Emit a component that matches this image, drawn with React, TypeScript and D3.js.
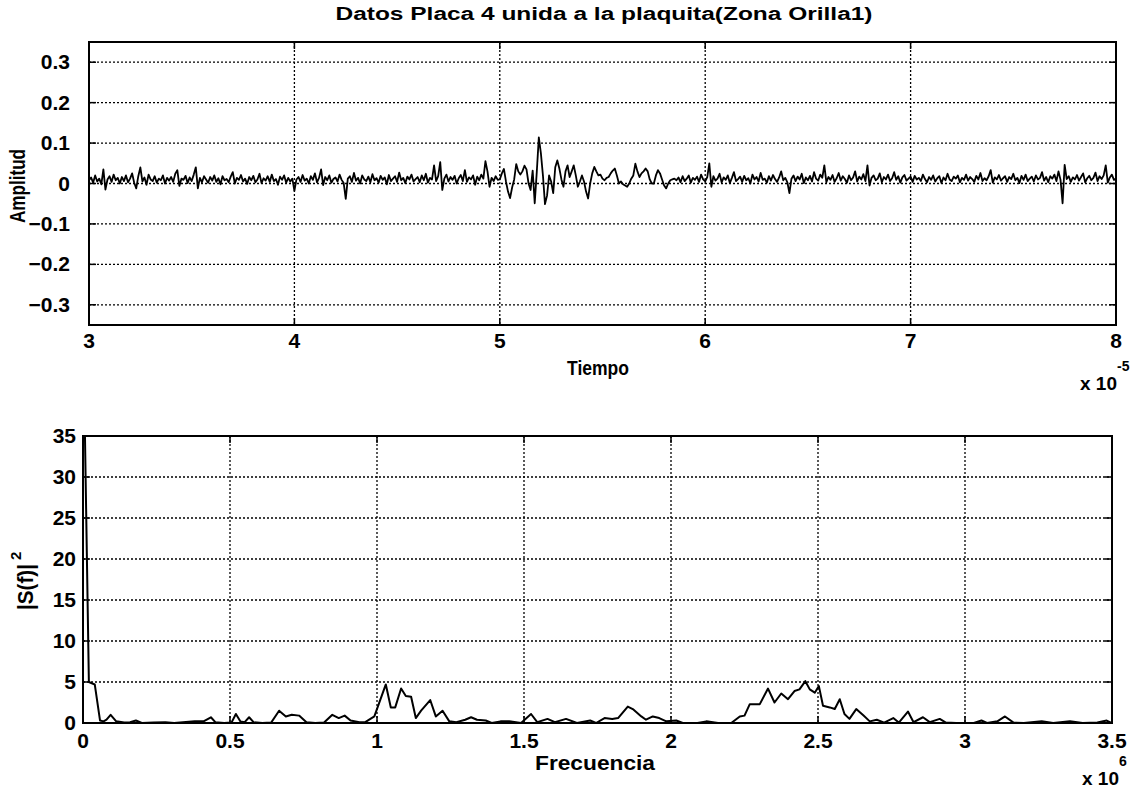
import React from 'react';
import * as d3 from 'd3';

// ---------- Data ----------
// Upper plot: amplitude (in thousandths) sampled every 0.01 (x 1e-5 s) from 3.00
const TIME_START = 3.0;
const TIME_STEP = 0.01;
const ampBefore = [
  8, 15, 2, 20, 5, 12, -2, 35, -15, 10, 18, 4, 22, 8, 14, 0, 16, 6, 20, 3,
  12, 25, 2, -12, 18, 40, 5, 15, -3, 22, 10, 6, 18, 2, 12, 8, 20, 0, 14, 7,
  16, 4, 24, 33, -6, 12, 9, 19, 1, 15, 6, 22, 40, -12, 14, 3, 18, 10, 2, 16,
  7, 20, 4, 13, -2, 18, 8, 11, 3, 17, 28, 0, 14, 9, 21, 5, 12, -1, 16, 8,
  19, 3, 10, 24, 1, 13, 7, 18, 4, 22, 6, 11, -3, 17, 9, 20, 2, 14, 5, 12,
  -18, 10, 16, 4, 21, 7, 12, 0, 18, 9, 25, 3, 14, 35, -4, 16, 8, 20, 2, 11,
  15, 5, 22, 9, 1, -38, 12, 18, 4, 26, 7, 14, 0, 20, 10, 6, 17, 3, 23, 8,
  13, 2, 19, 9, 15, -2, 21, 6, 12, 18, 4, 27, 8, 14, 1, 17, 10, 22, 5, 11,
  16, 3, 20, 8, 24, 2, 14, 10, 45, 6, 18, 53, -16, 12, 22, 5, 16, 9, 19, 0,
  13, 21, 6, 33, 4, 15, 10, 20, -3, 17, 8, 22, 12, 55, 30, -8, 14, 6, 18, 9,
];
const ampBurst = [
  10, 25, 36, 5, -20, -36, -10, 10, 48, 30,
  22, 30, 44, 35, 0, -16, 32, -49, 28, 114,
  75, 20, -51, -30, 20, 5, -24, 40, 57, 37,
  10, -8, 30, 45, 16, 30, 45, 20, -8, 5,
  20, 5, -20, -37, 0, 25, 41, 30, 20, 22,
  12, 8, 14, 16, 25, 32, 37, 20, 0, 5,
  -2, -5, -8, 0, 12, 20, 49, 30, 16, 25,
];
const ampAfter = [
  30, 37, 30, 10, 0, 0, 20, 33, 25, 10, -5, -12, 0, 8, 10, 12,
  8, 15, 3, 18, 6, 12, 20, 2, 14, 9, 17, 4, 22, 10,
  5, 16, 50, -8, 18, 7, 12, 24, 3, 15, 9, 20, 1, 14, 28, 6, 11, 17, 4, 19,
  8, 13, 0, 22, 10, 16, 5, 26, 9, 12, 2, 18, 7, 21, 11, 4, 15, 30, 8, 14,
  3, -24, 12, 20, 6, 17, 10, 24, 1, 15, 8, 19, 5, 28, 12, 7, 22, 14, 45, 3,
  16, 9, 21, 4, 13, 26, 7, 18, 11, 2, 20, 8, 15, 30, 5, 17, 10, 23, 6, 45,
  -5, 14, 20, 8, 12, 25, 3, 16, 10, 22, 6, 13, 28, 9, 18, 2, 15, 21, 7, 12,
  17, 4, 19, 10, 14, 6, 22, 11, 3, 16, 9, 20, 5, 13, 18, 1, 15, 8, 24, 10,
  6, 17, 12, 20, 3, 14, 9, 22, 7, 16, 11, 4, 19, 10, 26, 6, 13, 8, 18, 33,
  2, 15, 10, 21, 7, 13, 18, 4, 16, 11, 24, 8, 14, 1, 19, 9, 22, 6, 12, 17,
  5, 20, 10, 14, 28, 7, 16, 3, 18, 12, 22, 6, 30, 9, -49, 46, 11, 18, 4, 15,
  10, 21, 7, 16, 25, 3, 13, 19, 8, 14, 27, 6, 18, 11, 20, 45, 2, 15, 22, 9,
  12,
];

// Lower plot: power spectrum, frequency in units of 1e6
const specFreq = [
  0.0, 0.02, 0.04, 0.058, 0.07, 0.08, 0.094, 0.113, 0.14, 0.16, 0.18, 0.2, 0.24, 0.28, 0.31, 0.34,
  0.38, 0.41, 0.435, 0.45, 0.48, 0.505, 0.52, 0.535, 0.55, 0.565, 0.58, 0.61, 0.64, 0.667, 0.69,
  0.71, 0.735, 0.76, 0.79, 0.82, 0.848, 0.87, 0.89, 0.91, 0.94, 0.96, 0.991, 1.03, 1.047, 1.062,
  1.082, 1.098, 1.116, 1.132, 1.15, 1.181, 1.2, 1.223, 1.246, 1.27, 1.3, 1.32, 1.34, 1.37, 1.39,
  1.42, 1.45, 1.49, 1.524, 1.545, 1.58, 1.605, 1.643, 1.68, 1.725, 1.745, 1.774, 1.8, 1.82, 1.853,
  1.87, 1.899, 1.915, 1.938, 1.96, 1.984, 2.018, 2.04, 2.09, 2.12, 2.16, 2.205, 2.234, 2.25, 2.268,
  2.302, 2.33, 2.352, 2.375, 2.398, 2.42, 2.437, 2.457, 2.472, 2.489, 2.503, 2.517, 2.54, 2.557,
  2.574, 2.59, 2.607, 2.63, 2.655, 2.676, 2.7, 2.725, 2.756, 2.775, 2.806, 2.825, 2.857, 2.88,
  2.914, 2.935, 2.97, 3.0, 3.03, 3.056, 3.075, 3.11, 3.136, 3.165, 3.2, 3.261, 3.3, 3.357, 3.4,
  3.45, 3.482, 3.5,
];
const specPower = [
  50, 5.0, 4.7, 0.3, 0.2, 0.4, 1.0, 0.2, 0.05, 0.1, 0.3, 0.0, 0.05, 0.1, 0.0, 0.1,
  0.2, 0.2, 0.7, 0.1, 0.0, 0.05, 1.1, 0.2, 0.1, 0.7, 0.1, 0.0, 0.05, 1.5, 0.8,
  1.0, 0.9, 0.1, 0.0, 0.05, 1.0, 0.6, 0.9, 0.3, 0.1, 0.1, 0.8, 4.7, 1.9, 1.9,
  4.2, 3.3, 3.2, 0.6, 1.5, 2.8, 0.8, 1.5, 0.2, 0.1, 0.4, 0.7, 0.4, 0.3, 0.0,
  0.2, 0.2, 0.0, 1.1, 0.1, 0.5, 0.1, 0.5, 0.0, 0.3, 0.0, 0.6, 0.5, 0.6, 2.0,
  1.7, 0.8, 0.4, 0.8, 0.6, 0.2, 0.3, 0.0, 0.0, 0.2, 0.0, 0.0, 0.8, 0.9, 2.3,
  2.3, 4.2, 2.5, 3.6, 2.9, 3.9, 4.1, 5.1, 4.1, 3.7, 4.5, 2.1, 1.9, 1.7,
  2.9, 1.1, 0.5, 1.7, 0.9, 0.2, 0.4, 0.05, 0.6, 0.05, 1.4, 0.1, 0.7, 0.1,
  0.5, 0.05, 0.0, 0.0, 0.0, 0.3, 0.0, 0.2, 0.8, 0.05, 0.0, 0.2, 0.0, 0.2, 0.0,
  0.05, 0.3, 0.0,
];

const topXTicks = [3, 4, 5, 6, 7, 8];
const topYTicks = [-0.3, -0.2, -0.1, 0, 0.1, 0.2, 0.3];
const botXTicks = [0, 0.5, 1, 1.5, 2, 2.5, 3, 3.5];
const botYTicks = [0, 5, 10, 15, 20, 25, 30, 35];

const TITLE = 'Datos Placa 4 unida a la plaquita(Zona Orilla1)';

// ---------- Component ----------
const FONT = "'Liberation Sans', Arial, Helvetica, sans-serif";

export default function App() {
  const amp = [...ampBefore, ...ampBurst, ...ampAfter].map((v, i) => ({
    t: TIME_START + i * TIME_STEP,
    v: v / 1000,
  }));
  const spec = specFreq.map((f, i) => ({ f, p: specPower[i] }));

  // upper axes
  const tx = d3.scaleLinear().domain([3, 8]).range([89, 1116]);
  const ty = d3.scaleLinear().domain([-0.35, 0.35]).range([325, 42]);
  // lower axes
  const fx = d3.scaleLinear().domain([0, 3.5]).range([83, 1112]);
  const fy = d3.scaleLinear().domain([0, 35]).range([723, 436]);

  const ampLine = d3
    .line<{ t: number; v: number }>()
    .x((d) => tx(d.t))
    .y((d) => ty(d.v));
  const specLine = d3
    .line<{ f: number; p: number }>()
    .x((d) => fx(d.f))
    .y((d) => fy(d.p));

  const gridStyle = {
    stroke: '#000',
    strokeWidth: 1.3,
    strokeDasharray: '2 2',
    fill: 'none',
  };
  const tickFont = { fontFamily: FONT, fontWeight: 700, fontSize: 21, fill: '#000' };
  const labelFont = { fontFamily: FONT, fontWeight: 700, fontSize: 20, fill: '#000' };
  const tickLen = 7;

  const [tx0, tx1] = tx.range();
  const [ty0, ty1] = ty.range(); // bottom, top
  const [fx0, fx1] = fx.range();
  const [fy0, fy1] = fy.range();

  return (
    <svg
      width={1130}
      height={788}
      style={{ position: 'absolute', left: 0, top: 0, background: '#fff' }}
    >
      <defs>
        <clipPath id="clipTop">
          <rect x={tx0} y={ty1} width={tx1 - tx0} height={ty0 - ty1} />
        </clipPath>
        <clipPath id="clipBot">
          <rect x={fx0} y={fy1} width={fx1 - fx0} height={fy0 - fy1} />
        </clipPath>
      </defs>
      <rect x={0} y={0} width={1130} height={788} fill="#fff" />

      {/* Title */}
      <text
        x={604}
        y={20}
        textAnchor="middle"
        textLength={537}
        lengthAdjust="spacingAndGlyphs"
        style={{ ...labelFont, fontSize: 18 }}
      >
        {TITLE}
      </text>

      {/* ===== Upper plot ===== */}
      <g>
        {topXTicks
          .filter((t) => t > 3 && t < 8)
          .map((t) => (
            <line key={'gx' + t} x1={tx(t)} x2={tx(t)} y1={ty1} y2={ty0} style={gridStyle} />
          ))}
        {topYTicks.map((v) => (
          <line key={'gy' + v} x1={tx0} x2={tx1} y1={ty(v)} y2={ty(v)} style={gridStyle} />
        ))}
        <path
          d={ampLine(amp) || ''}
          fill="none"
          stroke="#000"
          strokeWidth={1.8}
          strokeLinejoin="round"
          clipPath="url(#clipTop)"
        />
        <rect x={tx0} y={ty1} width={tx1 - tx0} height={ty0 - ty1} fill="none" stroke="#000" strokeWidth={2} />
        {topXTicks.map((t) => (
          <g key={'tx' + t}>
            <line x1={tx(t)} x2={tx(t)} y1={ty0} y2={ty0 - tickLen} stroke="#000" strokeWidth={1.5} />
            <line x1={tx(t)} x2={tx(t)} y1={ty1} y2={ty1 + tickLen} stroke="#000" strokeWidth={1.5} />
            <text x={tx(t)} y={ty0 + 23} textAnchor="middle" style={tickFont}>
              {t}
            </text>
          </g>
        ))}
        {topYTicks.map((v) => (
          <g key={'ty' + v}>
            <line x1={tx0} x2={tx0 + tickLen} y1={ty(v)} y2={ty(v)} stroke="#000" strokeWidth={1.5} />
            <line x1={tx1} x2={tx1 - tickLen} y1={ty(v)} y2={ty(v)} stroke="#000" strokeWidth={1.5} />
            <text x={70} y={ty(v) + 7} textAnchor="end" style={tickFont}>
              {v === 0 ? '0' : d3.format('.1f')(v)}
            </text>
          </g>
        ))}
        <text
          x={598}
          y={375}
          textAnchor="middle"
          textLength={62}
          lengthAdjust="spacingAndGlyphs"
          style={labelFont}
        >
          Tiempo
        </text>
        <text
          transform="translate(25,186) rotate(-90)"
          textAnchor="middle"
          textLength={74}
          lengthAdjust="spacingAndGlyphs"
          style={{ ...labelFont, fontSize: 22 }}
        >
          Amplitud
        </text>
        <text x={1080} y={390} style={{ ...tickFont, fontSize: 19 }}>
          x 10
        </text>
        <text x={1117} y={371} style={{ ...tickFont, fontSize: 14 }}>
          -5
        </text>
      </g>

      {/* ===== Lower plot ===== */}
      <g>
        {botXTicks
          .filter((f) => f > 0 && f < 3.5)
          .map((f) => (
            <line key={'bgx' + f} x1={fx(f)} x2={fx(f)} y1={fy1} y2={fy0} style={gridStyle} />
          ))}
        {botYTicks
          .filter((p) => p > 0 && p < 35)
          .map((p) => (
            <line key={'bgy' + p} x1={fx0} x2={fx1} y1={fy(p)} y2={fy(p)} style={gridStyle} />
          ))}
        <path
          d={specLine(spec) || ''}
          fill="none"
          stroke="#000"
          strokeWidth={2}
          strokeLinejoin="round"
          clipPath="url(#clipBot)"
        />
        <rect x={fx0} y={fy1} width={fx1 - fx0} height={fy0 - fy1} fill="none" stroke="#000" strokeWidth={2} />
        {botXTicks.map((f) => (
          <g key={'bx' + f}>
            <line x1={fx(f)} x2={fx(f)} y1={fy0} y2={fy0 - tickLen} stroke="#000" strokeWidth={1.5} />
            <line x1={fx(f)} x2={fx(f)} y1={fy1} y2={fy1 + tickLen} stroke="#000" strokeWidth={1.5} />
            <text x={fx(f)} y={fy0 + 25} textAnchor="middle" style={tickFont}>
              {String(f)}
            </text>
          </g>
        ))}
        {botYTicks.map((p) => (
          <g key={'by' + p}>
            <line x1={fx0} x2={fx0 + tickLen} y1={fy(p)} y2={fy(p)} stroke="#000" strokeWidth={1.5} />
            <line x1={fx1} x2={fx1 - tickLen} y1={fy(p)} y2={fy(p)} stroke="#000" strokeWidth={1.5} />
            <text x={76} y={fy(p) + 7} textAnchor="end" style={tickFont}>
              {p}
            </text>
          </g>
        ))}
        <text
          x={595}
          y={770}
          textAnchor="middle"
          textLength={120}
          lengthAdjust="spacingAndGlyphs"
          style={labelFont}
        >
          Frecuencia
        </text>
        <g transform="translate(33,610) rotate(-90)">
          <text x={0} y={0} textLength={46} lengthAdjust="spacingAndGlyphs" style={{ ...labelFont, fontSize: 22 }}>
            |S(f)|
          </text>
          <text x={50} y={-12} style={{ ...labelFont, fontSize: 15 }}>
            2
          </text>
        </g>
        <text x={1082} y={785} style={{ ...tickFont, fontSize: 19 }}>
          x 10
        </text>
        <text x={1119} y={766} style={{ ...tickFont, fontSize: 14 }}>
          6
        </text>
      </g>
    </svg>
  );
}
